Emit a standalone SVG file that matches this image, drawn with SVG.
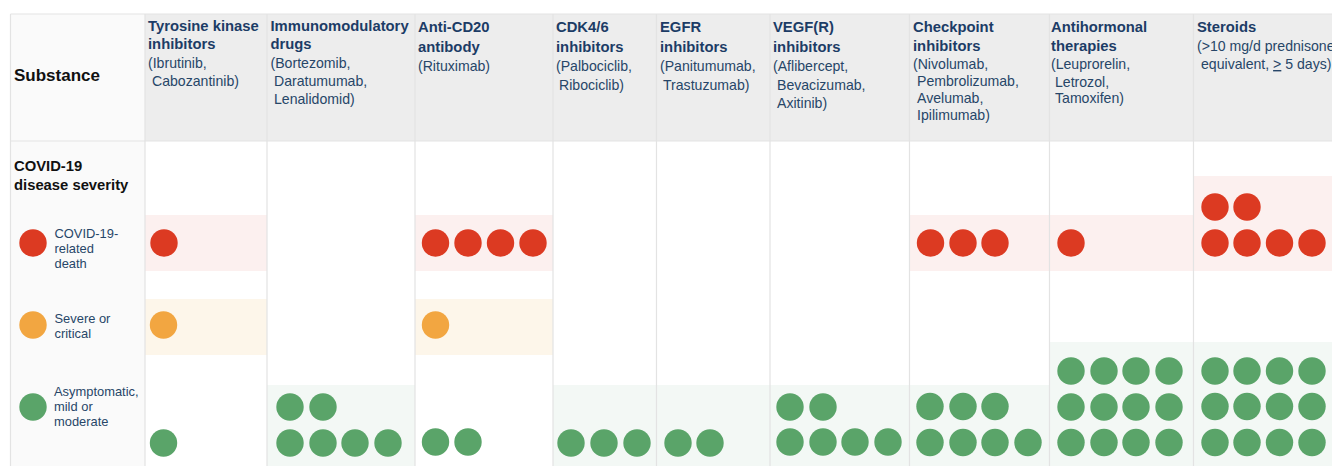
<svg xmlns="http://www.w3.org/2000/svg" width="1332" height="466" viewBox="0 0 1332 466">
<style>
text{font-family:"Liberation Sans",Arial,sans-serif;fill:#274668}
.h{font-weight:700;font-size:14.8px;fill:#1c3c66}
.s{font-size:14.100px}
.l{font-size:12.900px}
.k{font-weight:700;fill:#111}
.r{fill:#dc3a22}.o{fill:#f2a641}.g{fill:#5aa469}
.br{fill:#fcf0ef}.bo{fill:#fdf6ea}.bg{fill:#f3f8f5}
.hd{fill:#ededed}.grid{stroke:#e3e3e3;stroke-width:1.2;fill:none}
</style>
<rect width="1332" height="466" fill="#fff"/>
<g id="backgrounds">
<rect x="10" y="14" width="135" height="452" fill="#fafafa"/>
<rect class="hd" x="145" y="14" width="1187" height="127"/>
<rect class="br" x="145" y="215" width="122" height="56"/>
<rect class="bo" x="145" y="299" width="122" height="56"/>
<rect class="bg" x="267" y="385" width="148" height="81"/>
<rect class="br" x="415" y="215" width="138" height="56"/>
<rect class="bo" x="415" y="299" width="138" height="56"/>
<rect class="bg" x="553" y="385" width="103" height="81"/>
<rect class="bg" x="656" y="385" width="114" height="81"/>
<rect class="bg" x="770" y="385" width="139" height="81"/>
<rect class="br" x="909" y="215" width="140" height="56"/>
<rect class="bg" x="909" y="385" width="140" height="81"/>
<rect class="br" x="1049" y="215" width="144" height="56"/>
<rect class="bg" x="1049" y="342" width="144" height="124"/>
<rect class="br" x="1193" y="176" width="139" height="95"/>
<rect class="bg" x="1193" y="342" width="139" height="124"/>
</g>
<g id="grid" class="grid">
<path d="M10.5 14H1332M10.5 141H1332M10.5 14V466M145 14V466M267 14V466M415 14V466M553 14V466M656.5 14V466M770 14V466M909.5 14V466M1049.500 14V466M1193.500 14V466"/>
</g>
<g id="row-labels">
<text class="k" x="14" y="81" font-size="17">Substance</text>
<text class="k" x="14" y="170.500" font-size="14.800">COVID-19</text>
<text class="k" x="14" y="189.500" font-size="14.800">disease severity</text>
</g>
<g id="legend">
<circle class="r" cx="33" cy="243" r="13.700"/><circle class="o" cx="33" cy="325" r="13.700"/><circle class="g" cx="33" cy="407" r="13.700"/>
<text class="l" x="54.500" y="238">COVID-19-</text><text class="l" x="54.500" y="253">related</text><text class="l" x="54.500" y="268">death</text>
<text class="l" x="54.500" y="323">Severe or</text><text class="l" x="54.500" y="338">critical</text>
<text class="l" x="54" y="396">Asymptomatic,</text><text class="l" x="54" y="411">mild or</text><text class="l" x="54" y="426">moderate</text>
</g>
<g id="col-tki">
<text class="h" x="148" y="31">Tyrosine kinase</text><text class="h" x="148" y="49">inhibitors</text>
<text class="s" x="148" y="68">(Ibrutinib,</text><text class="s" x="152" y="86">Cabozantinib)</text>
<circle class="r" cx="164" cy="243" r="13.700"/><circle class="o" cx="163.500" cy="325" r="13.700"/><circle class="g" cx="163.500" cy="443" r="13.700"/>
</g>
<g id="col-imid">
<text class="h" x="270.500" y="31">Immunomodulatory</text><text class="h" x="270.500" y="49">drugs</text>
<text class="s" x="270.500" y="68">(Bortezomib,</text><text class="s" x="274" y="86">Daratumumab,</text><text class="s" x="274" y="104">Lenalidomid)</text>
<circle class="g" cx="290" cy="407" r="13.700"/><circle class="g" cx="323" cy="407" r="13.700"/>
<circle class="g" cx="290" cy="443" r="13.700"/><circle class="g" cx="323" cy="443" r="13.700"/><circle class="g" cx="355" cy="443" r="13.700"/><circle class="g" cx="388" cy="443" r="13.700"/>
</g>
<g id="col-cd20">
<text class="h" x="418" y="32">Anti-CD20</text><text class="h" x="418" y="52">antibody</text>
<text class="s" x="418" y="71">(Rituximab)</text>
<circle class="r" cx="435.500" cy="243" r="13.700"/><circle class="r" cx="468" cy="243" r="13.700"/><circle class="r" cx="500.500" cy="243" r="13.700"/><circle class="r" cx="533" cy="243" r="13.700"/>
<circle class="o" cx="435.500" cy="325" r="13.700"/>
<circle class="g" cx="435.500" cy="442" r="13.700"/><circle class="g" cx="468" cy="442" r="13.700"/>
</g>
<g id="col-cdk">
<text class="h" x="556" y="32">CDK4/6</text><text class="h" x="556" y="52">inhibitors</text>
<text class="s" x="556" y="71">(Palbociclib,</text><text class="s" x="559" y="90">Ribociclib)</text>
<circle class="g" cx="571" cy="443" r="13.700"/><circle class="g" cx="604" cy="443" r="13.700"/><circle class="g" cx="637" cy="443" r="13.700"/>
</g>
<g id="col-egfr">
<text class="h" x="660" y="32">EGFR</text><text class="h" x="660" y="52">inhibitors</text>
<text class="s" x="660" y="71">(Panitumumab,</text><text class="s" x="663" y="90">Trastuzumab)</text>
<circle class="g" cx="678" cy="443" r="13.700"/><circle class="g" cx="710" cy="443" r="13.700"/>
</g>
<g id="col-vegf">
<text class="h" x="773" y="32">VEGF(R)</text><text class="h" x="773" y="52">inhibitors</text>
<text class="s" x="773" y="71">(Aflibercept,</text><text class="s" x="777" y="90">Bevacizumab,</text><text class="s" x="777" y="108">Axitinib)</text>
<circle class="g" cx="790" cy="407" r="13.700"/><circle class="g" cx="823" cy="407" r="13.700"/>
<circle class="g" cx="790" cy="442" r="13.700"/><circle class="g" cx="823" cy="442" r="13.700"/><circle class="g" cx="855" cy="442" r="13.700"/><circle class="g" cx="888" cy="442" r="13.700"/>
</g>
<g id="col-checkpoint">
<text class="h" x="913" y="32">Checkpoint</text><text class="h" x="913" y="51">inhibitors</text>
<text class="s" x="913" y="69">(Nivolumab,</text><text class="s" x="917" y="86">Pembrolizumab,</text><text class="s" x="917" y="103">Avelumab,</text><text class="s" x="917" y="120">Ipilimumab)</text>
<circle class="r" cx="930.500" cy="243" r="13.700"/><circle class="r" cx="963" cy="243" r="13.700"/><circle class="r" cx="995" cy="243" r="13.700"/>
<circle class="g" cx="930" cy="406.500" r="13.700"/><circle class="g" cx="963" cy="406.500" r="13.700"/><circle class="g" cx="995" cy="406.500" r="13.700"/>
<circle class="g" cx="930" cy="442.500" r="13.700"/><circle class="g" cx="963" cy="442.500" r="13.700"/><circle class="g" cx="995" cy="442.500" r="13.700"/><circle class="g" cx="1028" cy="442.500" r="13.700"/>
</g>
<g id="col-antihormonal">
<text class="h" x="1051" y="32">Antihormonal</text><text class="h" x="1051" y="51">therapies</text>
<text class="s" x="1051" y="69">(Leuprorelin,</text><text class="s" x="1055" y="87">Letrozol,</text><text class="s" x="1055" y="103">Tamoxifen)</text>
<circle class="r" cx="1071" cy="243" r="13.700"/>
<circle class="g" cx="1071" cy="371" r="13.700"/><circle class="g" cx="1104" cy="371" r="13.700"/><circle class="g" cx="1136" cy="371" r="13.700"/><circle class="g" cx="1169" cy="371" r="13.700"/>
<circle class="g" cx="1071" cy="407" r="13.700"/><circle class="g" cx="1104" cy="407" r="13.700"/><circle class="g" cx="1136" cy="407" r="13.700"/><circle class="g" cx="1169" cy="407" r="13.700"/>
<circle class="g" cx="1071" cy="442.500" r="13.700"/><circle class="g" cx="1104" cy="442.500" r="13.700"/><circle class="g" cx="1136" cy="442.500" r="13.700"/><circle class="g" cx="1169" cy="442.500" r="13.700"/>
</g>
<g id="col-steroids">
<text class="h" x="1197" y="32">Steroids</text>
<text class="s" x="1197" y="51">(&gt;10 mg/d prednisone</text>
<text class="s" x="1201" y="69">equivalent, <tspan text-decoration="underline">&gt;</tspan> 5 days)</text>
<circle class="r" cx="1215" cy="207" r="13.700"/><circle class="r" cx="1247" cy="207" r="13.700"/>
<circle class="r" cx="1215" cy="243" r="13.700"/><circle class="r" cx="1247" cy="243" r="13.700"/><circle class="r" cx="1279.500" cy="243" r="13.700"/><circle class="r" cx="1312" cy="243" r="13.700"/>
<circle class="g" cx="1215" cy="371" r="13.700"/><circle class="g" cx="1247" cy="371" r="13.700"/><circle class="g" cx="1279.500" cy="371" r="13.700"/><circle class="g" cx="1312" cy="371" r="13.700"/>
<circle class="g" cx="1215" cy="406.500" r="13.700"/><circle class="g" cx="1247" cy="406.500" r="13.700"/><circle class="g" cx="1279.500" cy="406.500" r="13.700"/><circle class="g" cx="1312" cy="406.500" r="13.700"/>
<circle class="g" cx="1215" cy="442.500" r="13.700"/><circle class="g" cx="1247" cy="442.500" r="13.700"/><circle class="g" cx="1279.500" cy="442.500" r="13.700"/><circle class="g" cx="1312" cy="442.500" r="13.700"/>
</g>
</svg>
